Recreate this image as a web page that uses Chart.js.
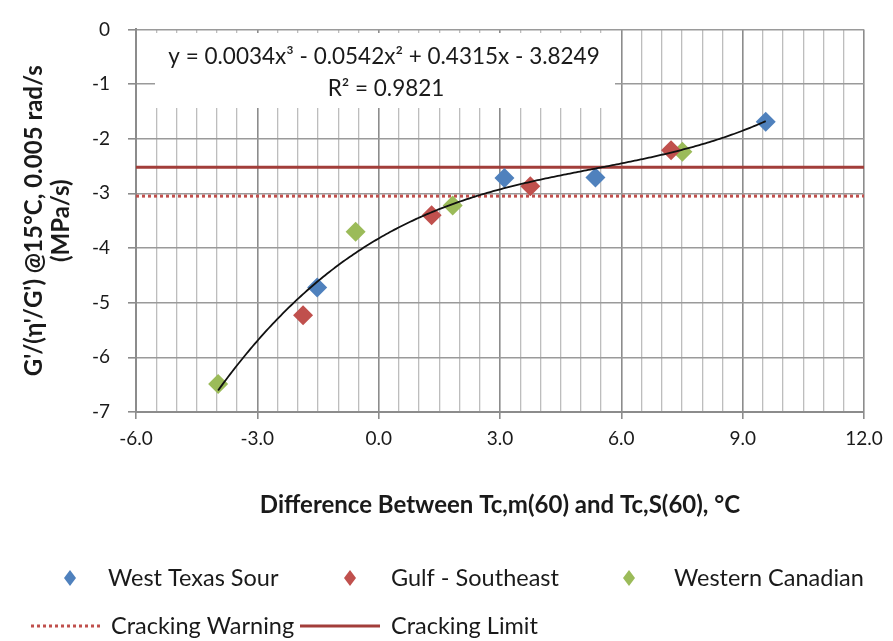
<!DOCTYPE html>
<html>
<head>
<meta charset="utf-8">
<script src="https://cdn.jsdelivr.net/npm/chart.js@4"></script>
<style>
  html, body { margin: 0; padding: 0; background: #ffffff; }
  #wrap { width: 893px; height: 641px; }
</style>
</head>
<body>
<div id="wrap"><canvas id="chart" width="893" height="641"></canvas></div>
<script>
// Difference between Tc,m(60) and Tc,S(60) (°C) against log G'/(η'/G') for each crude source
const westTexasX = [-1.52, 3.11, 5.36, 9.57];
const westTexasY = [-4.72, -2.72, -2.71, -1.69];
const gulfX = [-1.87, 1.31, 3.75, 7.23];
const gulfY = [-5.23, -3.40, -2.87, -2.21];
const canadianX = [-3.97, -0.57, 1.83, 7.51];
const canadianY = [-6.49, -3.70, -3.22, -2.24];

// Cracking thresholds (log MPa/s)
const crackingWarning = -3.05;
const crackingLimit = -2.52;

// Cubic trendline fitted to all points, highest power first
const trendCoefficients = [0.0034, -0.0542, 0.4315, -3.8249];
const rSquared = 0.9821;

// Axis ranges
const xRange = [-6, 12];
const yRange = [-7, 0];
const xLabelEvery = 3;

const seriesNames = ['West Texas Sour', 'Gulf - Southeast', 'Western Canadian'];
const lineNames = ['Cracking Warning', 'Cracking Limit'];

const FONT = 'Lato, "Open Sans", sans-serif';
const BLUE = '#4f81bd', RED = '#c0504d', GREEN = '#9bbb59';
const LIMIT_RED = '#a23e3a';

const toPoints = (xs, ys) => xs.map((x, i) => ({ x, y: ys[i] }));

function trendValue(x) {
  const [a, b, c, d] = trendCoefficients;
  return a * x * x * x + b * x * x + c * x + d;
}

// Trendline spans the range of the fitted points
const allX = westTexasX.concat(gulfX, canadianX);
const trendMin = Math.min(...allX), trendMax = Math.max(...allX);
const trendPoints = [];
for (let x = trendMin; x < trendMax; x += 0.05) trendPoints.push({ x, y: trendValue(x) });
trendPoints.push({ x: trendMax, y: trendValue(trendMax) });

function equationText() {
  const [a, b, c, d] = trendCoefficients;
  const term = (v, s, first) => (first ? (v < 0 ? '-' : '') : (v < 0 ? ' - ' : ' + ')) + Math.abs(v).toFixed(4) + s;
  return 'y = ' + term(a, 'x\u00b3', true) + term(b, 'x\u00b2') + term(c, 'x') + term(d, '');
}

// White label box with the trendline equation
const equationPlugin = {
  id: 'equationBox',
  beforeDatasetsDraw(chart) {
    const ctx = chart.ctx;
    ctx.save();
    ctx.fillStyle = '#ffffff';
    ctx.fillRect(155, 33, 460, 75);
    ctx.fillStyle = '#1a1a1a';
    ctx.font = '22.5px ' + FONT;
    ctx.textAlign = 'center';
    ctx.textBaseline = 'middle';
    ctx.fillText(equationText(), 384, 57);
    ctx.fillText('R\u00b2 = ' + rSquared.toFixed(4), 386, 89);
    ctx.restore();
  }
};

// Two-row legend under the axis title
const legendPlugin = {
  id: 'twoRowLegend',
  afterDraw(chart) {
    const ctx = chart.ctx;
    const ds = chart.data.datasets;
    ctx.save();
    ctx.font = '23.5px ' + FONT;
    ctx.textBaseline = 'middle';
    ctx.textAlign = 'left';
    const row1 = [
      { i: 2, mx: 70, tx: 108 },
      { i: 3, mx: 350, tx: 391 },
      { i: 4, mx: 629, tx: 674 }
    ];
    row1.forEach(it => {
      const d = ds[it.i];
      const y = 578, r = 8;
      ctx.fillStyle = d.backgroundColor;
      ctx.beginPath();
      ctx.moveTo(it.mx, y - r);
      ctx.lineTo(it.mx + r * 0.75, y);
      ctx.lineTo(it.mx, y + r);
      ctx.lineTo(it.mx - r * 0.75, y);
      ctx.closePath();
      ctx.fill();
      ctx.fillStyle = '#1a1a1a';
      ctx.fillText(d.label, it.tx, y);
    });
    const row2 = [
      { i: 0, x0: 31, x1: 100, tx: 111 },
      { i: 1, x0: 300, x1: 380, tx: 391 }
    ];
    row2.forEach(it => {
      const d = ds[it.i];
      const y = 626;
      ctx.strokeStyle = d.borderColor;
      ctx.lineWidth = d.borderWidth;
      ctx.setLineDash(d.borderDash || []);
      ctx.beginPath();
      ctx.moveTo(it.x0, y);
      ctx.lineTo(it.x1, y);
      ctx.stroke();
      ctx.setLineDash([]);
      ctx.fillStyle = '#1a1a1a';
      ctx.fillText(d.label, it.tx, y);
    });
    ctx.restore();
  }
};

const flatLine = v => [{ x: xRange[0], y: v }, { x: xRange[1], y: v }];

const isMajorX = v => Math.abs(v / xLabelEvery - Math.round(v / xLabelEvery)) < 1e-9;

new Chart(document.getElementById('chart'), {
  type: 'scatter',
  data: {
    datasets: [
      {
        label: lineNames[0], data: flatLine(crackingWarning), showLine: true,
        borderColor: RED, borderWidth: 3, borderDash: [3, 3], pointRadius: 0, order: 3
      },
      {
        label: lineNames[1], data: flatLine(crackingLimit), showLine: true,
        borderColor: LIMIT_RED, borderWidth: 3, pointRadius: 0, order: 3
      },
      {
        label: seriesNames[0], data: toPoints(westTexasX, westTexasY),
        backgroundColor: BLUE, borderColor: BLUE, pointStyle: 'rectRot', pointRadius: 10, borderWidth: 0, order: 2
      },
      {
        label: seriesNames[1], data: toPoints(gulfX, gulfY),
        backgroundColor: RED, borderColor: RED, pointStyle: 'rectRot', pointRadius: 10, borderWidth: 0, order: 2
      },
      {
        label: seriesNames[2], data: toPoints(canadianX, canadianY),
        backgroundColor: GREEN, borderColor: GREEN, pointStyle: 'rectRot', pointRadius: 10, borderWidth: 0, order: 2
      },
      {
        label: 'Poly. trend', data: trendPoints, showLine: true,
        borderColor: '#111111', borderWidth: 1.8, pointRadius: 0, order: 1
      }
    ]
  },
  options: {
    responsive: false,
    animation: false,
    devicePixelRatio: 1,
    layout: { padding: { left: 0, right: 29, top: 15, bottom: 120 } },
    plugins: {
      legend: { display: false },
      tooltip: { enabled: false }
    },
    scales: {
      x: {
        type: 'linear',
        min: xRange[0], max: xRange[1],
        afterFit: s => { s.height = 109; },
        ticks: {
          stepSize: 0.5, autoSkip: false, maxRotation: 0, padding: 8,
          color: '#1a1a1a', font: { family: FONT, size: 19 },
          callback: v => (isMajorX(v) ? Number(v).toFixed(1) : '')
        },
        grid: {
          color: c => (isMajorX(c.tick.value) ? '#8c8c8c' : '#bdbdbd'),
          lineWidth: c => (isMajorX(c.tick.value) ? 1.6 : 1.3),
          tickLength: 7,
          tickColor: c => (isMajorX(c.tick.value) ? '#8c8c8c' : 'rgba(0,0,0,0)')
        },
        border: { color: '#8c8c8c', width: 2 },
        title: {
          display: true,
          text: 'Difference Between Tc,m(60) and Tc,S(60), \u00b0C',
          color: '#1a1a1a', font: { family: FONT, size: 24, weight: 'bold' },
          padding: { top: 0, bottom: 1 }
        }
      },
      y: {
        type: 'linear',
        min: yRange[0], max: yRange[1],
        afterFit: s => { s.width = 136; },
        ticks: {
          stepSize: 1, padding: 18,
          color: '#1a1a1a', font: { family: FONT, size: 19 }
        },
        grid: { color: '#9a9a9a', lineWidth: 1.6, tickLength: 8, tickColor: '#8c8c8c' },
        border: { color: '#8c8c8c', width: 2 },
        title: {
          display: true,
          text: ["G'/(\u03b7'/G') @15\u00b0C, 0.005 rad/s", '(MPa/s)'],
          color: '#1a1a1a', font: { family: FONT, size: 24, weight: 'bold', lineHeight: 1.12 },
          padding: { top: 21, bottom: 0 }
        }
      }
    }
  },
  plugins: [equationPlugin, legendPlugin]
});
</script>
</body>
</html>
